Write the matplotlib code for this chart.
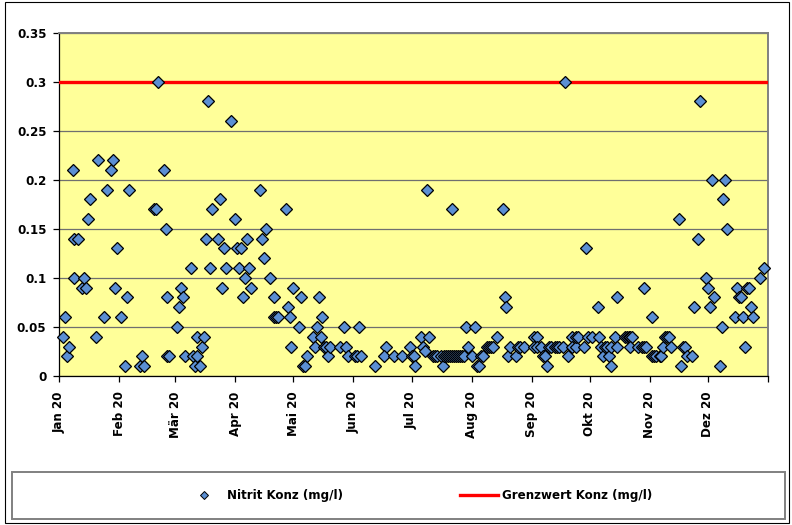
"""Nitrit-Konzentration 2020 mit Grenzwert."""

import matplotlib

matplotlib.use("Agg")
import matplotlib.pyplot as plt
import pandas as pd
from matplotlib.lines import Line2D
from matplotlib.patches import Rectangle

# day offset from 2020-01-01 and measured value (mg/l)
days = [
    2, 3, 4, 5, 7, 8, 8, 10, 12, 13, 14, 15, 16, 19, 20, 23, 25, 27, 28, 29,
    30, 32, 34, 35, 36, 42, 43, 44, 49, 50, 51, 54, 55, 56, 56, 57, 61, 62, 63, 64,
    65, 68, 69, 70, 71, 71, 73, 74, 75, 76, 77, 78, 79, 82, 83, 84, 85, 86, 89, 91,
    92, 93, 94, 95, 96, 97, 98, 99, 104, 105, 106, 107, 109, 111, 112, 113, 111, 117, 118, 119,
    120, 121, 124, 125, 126, 127, 128, 131, 132, 133, 134, 135, 136, 137, 138, 139, 140, 145, 147, 148,
    149, 153, 154, 155, 156, 163, 169, 168, 173, 177, 181, 182, 183, 184, 187, 188, 189, 190, 191, 193,
    194, 195, 197, 198, 199, 200, 201, 202, 203, 203, 204, 205, 206, 207, 208, 209, 210, 211, 213, 215,
    216, 217, 218, 219, 221, 222, 223, 224, 226, 229, 230, 231, 232, 233, 236, 237, 238, 240, 245, 245,
    247, 247, 249, 250, 251, 252, 253, 254, 256, 257, 258, 260, 261, 263, 265, 265, 267, 267, 268, 271,
    272, 273, 275, 278, 279, 280, 281, 282, 283, 284, 285, 285, 287, 288, 288, 292, 293, 294, 295, 296,
    295, 299, 301, 302, 302, 303, 306, 306, 307, 308, 310, 311, 312, 313, 314, 315, 316, 320, 321, 322,
    323, 324, 327, 328, 330, 331, 334, 335, 336, 337, 338, 341, 342, 343, 344, 345, 349, 350, 351, 352,
    353, 354, 355, 356, 357, 358, 362, 364,
]
nitrit = [
    0.04, 0.06, 0.02, 0.03, 0.21, 0.14, 0.10, 0.14, 0.09, 0.10, 0.09, 0.16, 0.18, 0.04, 0.22, 0.06, 0.19, 0.21, 0.22, 0.09,
    0.13, 0.06, 0.01, 0.08, 0.19, 0.01, 0.02, 0.01, 0.17, 0.17, 0.30, 0.21, 0.15, 0.08, 0.02, 0.02, 0.05, 0.07, 0.09, 0.08,
    0.02, 0.11, 0.02, 0.01, 0.02, 0.04, 0.01, 0.03, 0.04, 0.14, 0.28, 0.11, 0.17, 0.14, 0.18, 0.09, 0.13, 0.11, 0.26, 0.16,
    0.13, 0.11, 0.13, 0.08, 0.10, 0.14, 0.11, 0.09, 0.19, 0.14, 0.12, 0.15, 0.10, 0.06, 0.06, 0.06, 0.08, 0.17, 0.07, 0.06,
    0.03, 0.09, 0.05, 0.08, 0.01, 0.01, 0.02, 0.04, 0.03, 0.05, 0.08, 0.04, 0.06, 0.03, 0.03, 0.02, 0.03, 0.03, 0.05, 0.03,
    0.02, 0.02, 0.02, 0.05, 0.02, 0.01, 0.03, 0.02, 0.02, 0.02, 0.03, 0.02, 0.02, 0.01, 0.04, 0.03, 0.025, 0.19, 0.04, 0.02,
    0.02, 0.02, 0.02, 0.01, 0.02, 0.02, 0.02, 0.02, 0.17, 0.02, 0.02, 0.02, 0.02, 0.02, 0.02, 0.02, 0.05, 0.03, 0.02, 0.05,
    0.01, 0.01, 0.02, 0.02, 0.03, 0.03, 0.03, 0.03, 0.04, 0.17, 0.08, 0.07, 0.02, 0.03, 0.02, 0.03, 0.03, 0.03, 0.04, 0.03,
    0.04, 0.03, 0.03, 0.02, 0.02, 0.01, 0.03, 0.03, 0.03, 0.03, 0.03, 0.03, 0.30, 0.02, 0.04, 0.03, 0.03, 0.04, 0.04, 0.03,
    0.13, 0.04, 0.04, 0.07, 0.04, 0.03, 0.02, 0.03, 0.03, 0.02, 0.03, 0.01, 0.04, 0.03, 0.08, 0.04, 0.04, 0.04, 0.04, 0.04,
    0.03, 0.03, 0.03, 0.09, 0.03, 0.03, 0.06, 0.02, 0.02, 0.02, 0.02, 0.02, 0.03, 0.04, 0.04, 0.04, 0.03, 0.16, 0.01, 0.03,
    0.03, 0.02, 0.02, 0.07, 0.14, 0.28, 0.10, 0.09, 0.07, 0.20, 0.08, 0.01, 0.05, 0.18, 0.20, 0.15, 0.06, 0.09, 0.08, 0.08,
    0.06, 0.03, 0.09, 0.09, 0.07, 0.06, 0.10, 0.11,
]
grenzwert = 0.3

month_labels = ["Jan 20", "Feb 20", "Mär 20", "Apr 20", "Mai 20", "Jun 20",
                "Jul 20", "Aug 20", "Sep 20", "Okt 20", "Nov 20", "Dez 20"]
y_ticks = [0, 0.05, 0.1, 0.15, 0.2, 0.25, 0.3, 0.35]
series_names = ["Nitrit Konz (mg/l)", "Grenzwert Konz (mg/l)"]

start = pd.Timestamp("2020-01-01")
end = pd.Timestamp("2021-01-01")
dates = start + pd.to_timedelta(days, unit="D")

MARKER_FC = "#5B8FD3"
RED = "#FF0000"

plt.rcParams["font.family"] = ["DejaVu Sans"]
plt.rcParams["font.weight"] = "bold"

fig = plt.figure(figsize=(7.92, 5.25), dpi=100)
ax = fig.add_axes([59 / 792, 1 - 376 / 525, 709 / 792, 343.5 / 525])
ax.set_facecolor("#FFFF99")

ax.axhline(grenzwert, color=RED, lw=2.4, zorder=3)
ax.plot(dates, nitrit, ls="none", marker="D", ms=5.8, mfc=MARKER_FC, mec="black",
        mew=0.9, zorder=4, clip_on=False)

ax.set_xlim(start, end)
ax.set_ylim(0, 0.35)
ax.set_yticks(y_ticks)
ax.set_yticklabels([f"{t:g}" for t in y_ticks])
ax.yaxis.grid(True, color="#6F6F6F", lw=0.9)
ax.set_axisbelow(True)

month_ticks = pd.date_range(start, end, freq="MS")
ax.set_xticks(month_ticks)
ax.set_xticklabels(month_labels + [""], rotation=90)

ax.tick_params(axis="both", labelsize=8.6, length=4, width=0.9, color="black")
ax.tick_params(axis="y", pad=5)
ax.tick_params(axis="x", pad=7)
for side in ("top", "right"):
    ax.spines[side].set_color("#808080")
    ax.spines[side].set_linewidth(1.4)
for side in ("left", "bottom"):
    ax.spines[side].set_color("black")
    ax.spines[side].set_linewidth(0.9)

# chart frame and legend box
fig.patches.append(Rectangle((5 / 792, 2 / 525), 784 / 792, 521 / 525, transform=fig.transFigure,
                             fill=False, ec="black", lw=0.8))
fig.patches.append(Rectangle((12 / 792, 1 - 519 / 525), 773 / 792, 47 / 525,
                             transform=fig.transFigure, fill=False, ec="#808080", lw=1.4))

handles = [
    Line2D([], [], ls="none", marker="D", ms=4, mfc=MARKER_FC, mec="black", mew=0.7),
    Line2D([], [], color=RED, lw=2.4),
]
for handle, name, x0 in zip(handles, series_names, (185, 460)):
    leg = fig.legend([handle], [name], loc="center left",
                     bbox_to_anchor=(x0 / 792, 1 - 496 / 525), frameon=False,
                     prop={"size": 8.6, "weight": "bold"}, handlelength=3.2,
                     handletextpad=0.3, borderpad=0, borderaxespad=0)

fig.savefig("out.png", dpi=100)
